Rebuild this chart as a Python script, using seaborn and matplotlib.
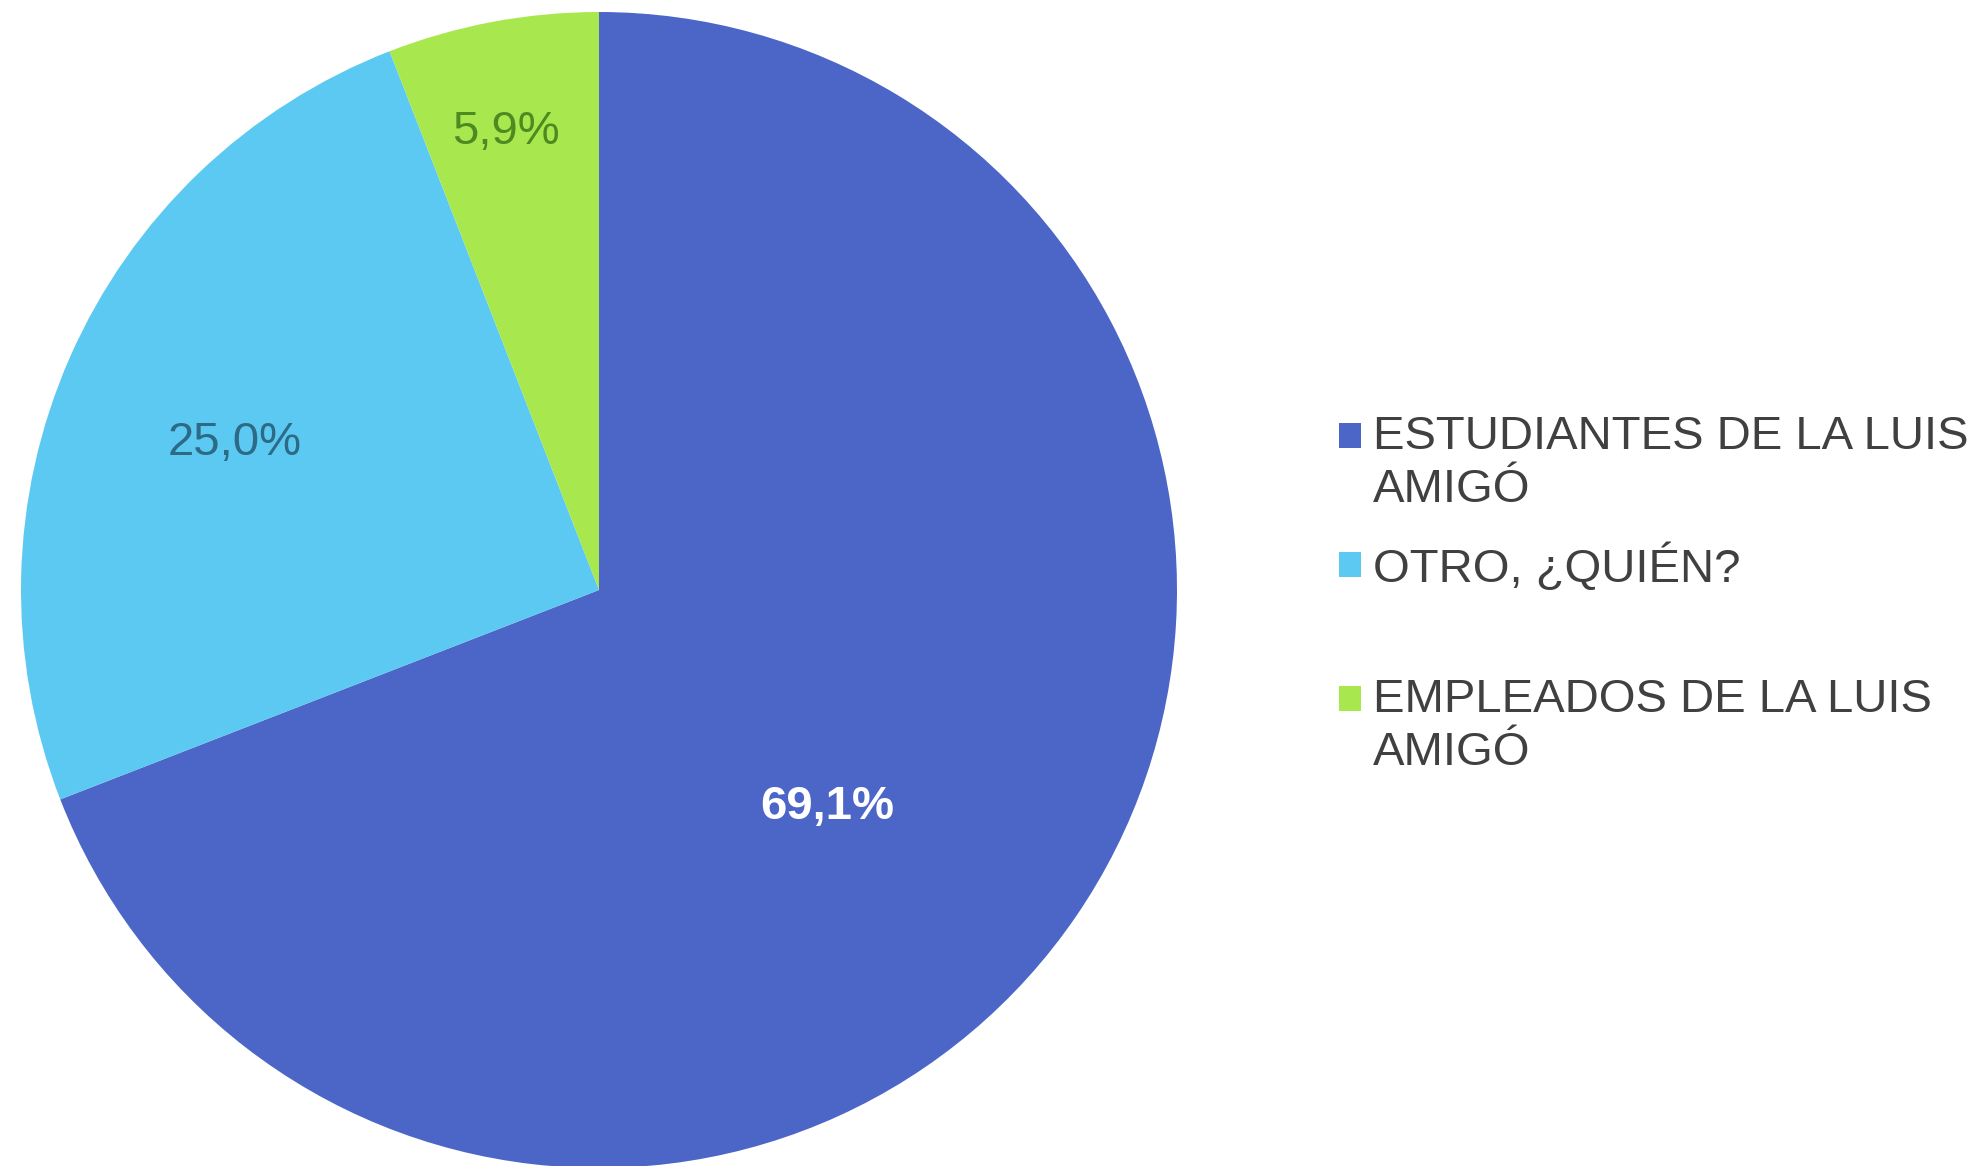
import numpy as np
import matplotlib
matplotlib.use("Agg")
import matplotlib.pyplot as plt
from matplotlib.patches import Rectangle
import seaborn as sns

# Survey answers: who answered the questionnaire
categories = ["ESTUDIANTES DE LA LUIS\nAMIGÓ", "OTRO, ¿QUIÉN?", "EMPLEADOS DE LA LUIS\nAMIGÓ"]
shares = [69.1, 25.0, 5.9]
slice_colors = ["#4C66C8", "#5BC9F1", "#A8E84E"]
label_colors = ["#FFFFFF", "#2D6A86", "#4E8A22"]
label_weights = ["bold", "normal", "normal"]

sns.set_theme(style="white")
plt.rcParams["font.family"] = ["Liberation Sans", "DejaVu Sans"]

W, H = 1985, 1166
fig = plt.figure(figsize=(W / 100, H / 100), dpi=100)
fig.patch.set_facecolor("white")

# pie placement in pixels: centre and radius
cx, cy, R = 599, 590, 578
ax = fig.add_axes([(cx - R) / W, (H - cy - R) / H, 2 * R / W, 2 * R / H])

wedges, _, autotexts = ax.pie(
    shares,
    colors=slice_colors,
    startangle=90,
    counterclock=False,
    radius=1.0,
    autopct=lambda p: f"{p:.1f}".replace(".", ",") + "%",
    wedgeprops=dict(linewidth=0),
    textprops=dict(fontsize=34),
)
ax.set_xlim(-1, 1)
ax.set_ylim(-1, 1)
ax.set_axis_off()
for w in wedges:
    w.set_clip_on(False)

# label placement: radial distance and angular shift from each slice's middle
label_radius = [0.545, 0.679, 0.808]
label_shift = [-9.2, 1.8, 0.9]
for w, t, col, wt, rr, sh in zip(wedges, autotexts, label_colors, label_weights,
                                 label_radius, label_shift):
    mid = np.deg2rad((w.theta1 + w.theta2) / 2 + sh)
    t.set_position((rr * np.cos(mid), rr * np.sin(mid)))
    t.set_color(col)
    t.set_fontweight(wt)
    t.set_ha("center")
    t.set_va("center")

# legend on the right: square swatch next to the first line of each entry
text_color = "#404040"
fs = 34
sq_w, sq_h = 22, 25
sq_x = 1350
entries_y = [435, 565, 698]        # centre of swatch
first_baseline = [449, 582, 712]   # baseline of the first text line
line_step = 53
text_x = 1373
for lab, col, yc, yb in zip(categories, slice_colors, entries_y, first_baseline):
    fig.add_artist(Rectangle(((sq_x - sq_w / 2) / W, (H - yc - sq_h / 2) / H),
                             sq_w / W, sq_h / H, transform=fig.transFigure,
                             facecolor=col, edgecolor="none"))
    for i, line in enumerate(lab.split("\n")):
        fig.text(text_x / W, (H - (yb + i * line_step)) / H, line,
                 fontsize=fs, color=text_color, ha="left", va="baseline")

fig.savefig("out.png", dpi=100, facecolor="white")
